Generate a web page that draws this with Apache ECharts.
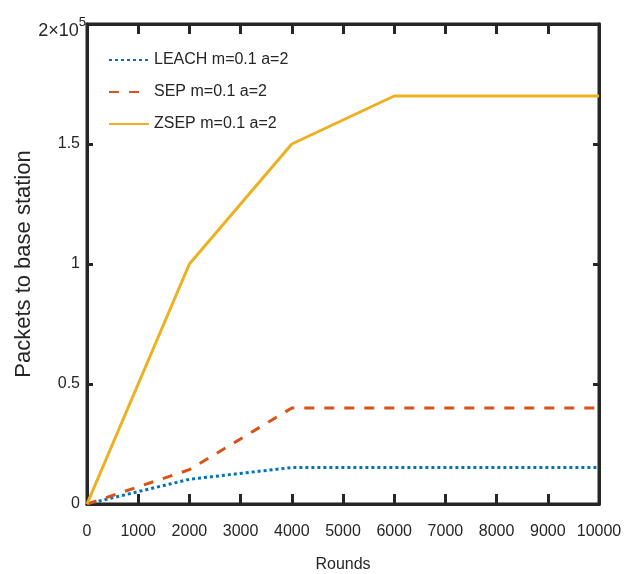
<!DOCTYPE html>
<html>
<head>
<meta charset="utf-8">
<script src="https://cdn.jsdelivr.net/npm/echarts@6/dist/echarts.min.js"></script>
<style>html,body{margin:0;padding:0;background:#fff}#c{width:634px;height:574px}</style>
</head>
<body>
<div id="c"></div>
<script>
const rounds = [0, 2000, 4000, 6000, 8000, 10000];
const leach = [0, 10300, 15200, 15200, 15200, 15200];
const sep = [0, 14300, 40000, 40000, 40000, 40000];
const zsep = [0, 100000, 150000, 170000, 170000, 170000];
const seriesNames = ['LEACH m=0.1 a=2', 'SEP m=0.1 a=2', 'ZSEP m=0.1 a=2'];
const xTicks = [0, 1000, 2000, 3000, 4000, 5000, 6000, 7000, 8000, 9000, 10000];
const yTicks = [0, 50000, 100000, 150000, 200000];

const FN = '"Liberation Sans", Arial, sans-serif';
const TXT = '#262626';
const pairs = (ys) => rounds.map((r, i) => [r, ys[i]]);

function axisCommon(len) {
  return {
    axisLine: {show: true, onZero: false, lineStyle: {color: TXT, width: 3}},
    axisTick: {show: true, inside: true, length: len, lineStyle: {color: TXT, width: 3}},
    splitLine: {show: false}
  };
}

const chart = echarts.init(document.getElementById('c'), null, {renderer: 'canvas'});
chart.setOption({
  animation: false,
  backgroundColor: '#fff',
  grid: {left: 87, right: 35, top: 24, bottom: 70, containLabel: false, outerBoundsMode: 'none',
         show: true, borderWidth: 3, borderColor: TXT, backgroundColor: 'transparent'},
  legend: {
    orient: 'vertical', left: 103, top: 47, itemWidth: 40, itemHeight: 12, itemGap: 16,
    itemStyle: {opacity: 0},
    textStyle: {fontFamily: FN, fontSize: 16, color: TXT},
    data: seriesNames
  },
  xAxis: [
    Object.assign(axisCommon(10), {
      type: 'value', position: 'bottom', min: xTicks[0], max: xTicks[xTicks.length - 1], interval: xTicks[1] - xTicks[0],
      name: 'Rounds', nameLocation: 'middle', nameGap: 53, nameMoveOverlap: false,
      nameTextStyle: {fontFamily: FN, fontSize: 16, color: TXT},
      axisLabel: {fontFamily: FN, fontSize: 16, color: TXT, margin: 20, formatter: (v) => String(v)}
    }),
    Object.assign(axisCommon(10), {
      type: 'value', position: 'top', min: xTicks[0], max: xTicks[xTicks.length - 1], interval: xTicks[1] - xTicks[0],
      axisLabel: {show: false}
    })
  ],
  yAxis: [
    Object.assign(axisCommon(6), {
      type: 'value', position: 'left', min: yTicks[0], max: yTicks[yTicks.length - 1], interval: yTicks[1] - yTicks[0],
      name: 'Packets to base station', nameLocation: 'middle', nameGap: 52, nameMoveOverlap: false,
      nameTextStyle: {fontFamily: FN, fontSize: 22, color: TXT},
      axisLabel: {
        fontFamily: FN, fontSize: 16, color: TXT, margin: 7,
        formatter: function (v) {
          if (v === 200000) return '{a|2×10}{s|5}';
          return String(v / 100000);
        },
        rich: {
          a: {fontFamily: FN, fontSize: 18, color: TXT, padding: [14, 0, 0, 0]},
          s: {fontFamily: FN, fontSize: 13, color: TXT, padding: [0, -6, 4, 0]}
        }
      }
    }),
    Object.assign(axisCommon(6), {
      type: 'value', position: 'right', min: yTicks[0], max: yTicks[yTicks.length - 1], interval: yTicks[1] - yTicks[0],
      axisLabel: {show: false}
    })
  ],
  series: [
    {name: seriesNames[0], type: 'line', data: pairs(leach), symbol: 'none', showSymbol: false,
     itemStyle: {color: '#0072BD'}, lineStyle: {color: '#0072BD', width: 3, type: [3, 3]}},
    {name: seriesNames[1], type: 'line', data: pairs(sep), symbol: 'none', showSymbol: false,
     itemStyle: {color: '#D95319'}, lineStyle: {color: '#D95319', width: 3, type: [10, 10]}},
    {name: seriesNames[2], type: 'line', data: pairs(zsep), symbol: 'none', showSymbol: false,
     itemStyle: {color: '#EDB120'}, lineStyle: {color: '#EDB120', width: 3, type: 'solid'}}
  ]
});
</script>
</body>
</html>
